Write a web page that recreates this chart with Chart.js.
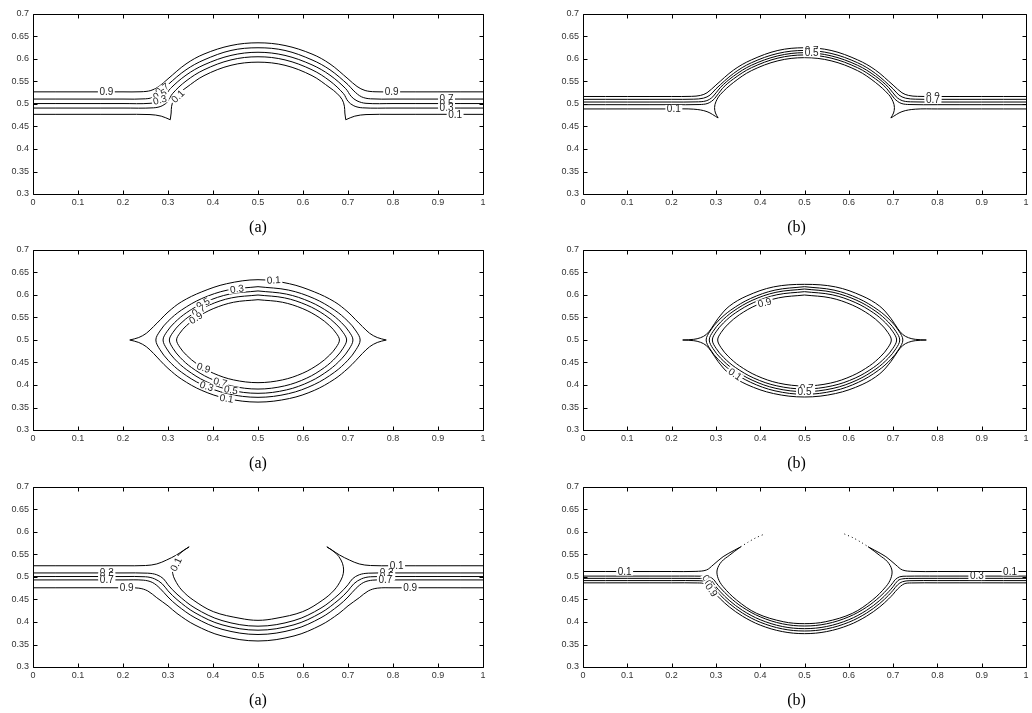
<!DOCTYPE html>
<html>
<head>
<meta charset="utf-8">
<script src="https://cdn.jsdelivr.net/npm/chart.js@4.4.1/dist/chart.umd.min.js"></script>
<style>
  html, body { margin: 0; padding: 0; background: #fff; }
  #wrap { position: relative; width: 1032px; height: 713px; overflow: hidden; }
  #wrap canvas { position: absolute; }
</style>
</head>
<body>
<div id="wrap">
  <canvas id="c1" width="500" height="236" style="left:0;top:0"></canvas>
  <canvas id="c2" width="482" height="236" style="left:550px;top:0"></canvas>
  <canvas id="c3" width="500" height="236" style="left:0;top:236px"></canvas>
  <canvas id="c4" width="482" height="236" style="left:550px;top:236px"></canvas>
  <canvas id="c5" width="500" height="236" style="left:0;top:473px"></canvas>
  <canvas id="c6" width="482" height="236" style="left:550px;top:473px"></canvas>
</div>
<script>
// axis ticks
const xTicks = [0, 0.1, 0.2, 0.3, 0.4, 0.5, 0.6, 0.7, 0.8, 0.9, 1];
const yTicks = [0.3, 0.35, 0.4, 0.45, 0.5, 0.55, 0.6, 0.65, 0.7];
const captions = ['(a)', '(b)', '(a)', '(b)', '(a)', '(b)'];

// ---- panel 1 (top left): cap rising from the layer ----
const p1_09 = [[0,.527],[.2,.527],[.24,.5272],[.262,.530],[.28,.539],[.30,.556],[.34,.589],[.38,.611],[.44,.630],[.5,.636],[.56,.630],[.62,.611],[.66,.589],[.70,.556],[.72,.539],[.738,.530],[.76,.5272],[.8,.527],[1,.527]];
const p1_07 = [[0,.511],[.2,.511],[.25,.5115],[.27,.516],[.287,.529],[.30,.543],[.34,.576],[.38,.598],[.44,.619],[.5,.625],[.56,.619],[.62,.598],[.66,.576],[.70,.543],[.713,.529],[.73,.516],[.75,.5115],[.8,.511],[1,.511]];
const p1_05 = [[0,.501],[.2,.501],[.26,.5015],[.28,.507],[.293,.517],[.305,.534],[.34,.564],[.38,.587],[.44,.608],[.5,.615],[.56,.608],[.62,.587],[.66,.564],[.695,.534],[.707,.517],[.72,.507],[.74,.5015],[.8,.501],[1,.501]];
const p1_03 = [[0,.491],[.2,.491],[.268,.4915],[.287,.496],[.30,.506],[.31,.523],[.34,.551],[.38,.576],[.44,.598],[.5,.605],[.56,.598],[.62,.576],[.66,.551],[.69,.523],[.70,.506],[.713,.496],[.732,.4915],[.8,.491],[1,.491]];
const p1_01a = [[0,.477],[.2,.477],[.26,.4765],[.285,.473],[.305,.465]];
const p1_01b = [[.305,.465],[.307,.48],[.308,.495],[.313,.51],[.325,.524],[.34,.536],[.38,.563],[.44,.586],[.5,.593],[.56,.586],[.62,.563],[.66,.536],[.675,.524],[.687,.51],[.692,.495],[.693,.48],[.695,.465]];
const p1_01c = [[.695,.465],[.715,.473],[.74,.4765],[.8,.477],[1,.477]];
const p1_labels = [['0.9',.163,.527,0],['0.9',.797,.527,0],['0.7',.287,.533,-35],['0.5',.282,.521,-25],['0.3',.282,.509,-15],['0.1',.322,.517,-45],['0.7',.919,.511,0],['0.5',.919,.501,0],['0.3',.919,.491,0],['0.1',.938,.477,0]];

// ---- panel 2 (top right) ----
const p2_09 = [[0,.5167],[.2,.5167],[.245,.517],[.265,.519],[.28,.525],[.30,.542],[.34,.5755],[.38,.598],[.44,.619],[.5,.625],[.56,.619],[.62,.598],[.66,.5755],[.70,.542],[.72,.525],[.735,.519],[.755,.517],[.8,.5167],[1,.5167]];
const p2_07 = [[0,.5104],[.2,.5104],[.25,.5107],[.272,.513],[.287,.52],[.30,.5336],[.34,.568],[.38,.5916],[.44,.6124],[.5,.619],[.56,.6124],[.62,.5916],[.66,.568],[.70,.5336],[.713,.52],[.728,.513],[.75,.5107],[.8,.5104],[1,.5104]];
const p2_05 = [[0,.5044],[.2,.5044],[.255,.5047],[.278,.507],[.293,.516],[.31,.5367],[.34,.562],[.38,.586],[.44,.607],[.5,.614],[.56,.607],[.62,.586],[.66,.562],[.69,.5367],[.707,.516],[.722,.507],[.745,.5047],[.8,.5044],[1,.5044]];
const p2_03 = [[0,.4985],[.2,.4985],[.262,.4988],[.282,.5015],[.297,.512],[.315,.535],[.34,.556],[.38,.5805],[.44,.602],[.5,.609],[.56,.602],[.62,.5805],[.66,.556],[.685,.535],[.703,.512],[.718,.5015],[.738,.4988],[.8,.4985],[1,.4985]];
const p2_01a = [[0,.489],[.2,.489],[.25,.4885],[.28,.483],[.305,.469]];
const p2_01b = [[.305,.469],[.299,.48],[.297,.492],[.30,.505],[.31,.521],[.34,.548],[.38,.574],[.44,.596],[.5,.603],[.56,.596],[.62,.574],[.66,.548],[.69,.521],[.70,.505],[.703,.492],[.701,.48],[.695,.469]];
const p2_01c = [[.695,.469],[.72,.483],[.75,.4885],[.8,.489],[1,.489]];
const p2_labels = [['0.1',.205,.489,0],['0.7',.516,.619,0],['0.5',.516,.613,0],['0.9',.79,.5167,0],['0.7',.79,.5104,0]];

// ---- panel 3 (middle left): closed drop ----
const p3_01u = [[.215,.5],[.235,.5055],[.252,.515],[.268,.53],[.283,.545],[.30,.562],[.33,.585],[.375,.607],[.43,.625],[.5,.634],[.57,.625],[.625,.607],[.67,.585],[.70,.562],[.717,.545],[.732,.53],[.748,.515],[.765,.5055],[.785,.5]];
const p3_01l = [[.215,.5],[.235,.4945],[.252,.485],[.268,.47],[.283,.454],[.30,.437],[.33,.413],[.375,.388],[.43,.37],[.5,.362],[.57,.37],[.625,.388],[.67,.413],[.70,.437],[.717,.454],[.732,.47],[.748,.485],[.765,.4945],[.785,.5]];
const p3_03 = [[.5,.6185],[.4319,.6109],[.3751,.5921],[.3297,.5664],[.3002,.5418],[.2821,.5199],[.273,.5],[.2821,.4786],[.3002,.4551],[.3297,.4286],[.3751,.401],[.4319,.3808],[.5,.3726],[.5681,.3808],[.6249,.401],[.6703,.4286],[.6998,.4551],[.7179,.4786],[.727,.5],[.7179,.5199],[.6998,.5418],[.6703,.5664],[.6249,.5921],[.5681,.6109],[.5,.6185]];
const p3_05 = [[.5,.609],[.4367,.602],[.3839,.5847],[.3417,.5611],[.3143,.5384],[.2974,.5183],[.289,.5],[.2974,.4801],[.3143,.4582],[.3417,.4336],[.3839,.4079],[.4367,.3891],[.5,.3815],[.5633,.3891],[.6161,.4079],[.6583,.4336],[.6857,.4582],[.7026,.4801],[.711,.5],[.7026,.5183],[.6857,.5384],[.6583,.5611],[.6161,.5847],[.5633,.602],[.5,.609]];
const p3_07 = [[.5,.6],[.4409,.5936],[.3916,.5777],[.3522,.5561],[.3266,.5353],[.3109,.5168],[.303,.5],[.3109,.4817],[.3266,.4616],[.3522,.4389],[.3916,.4153],[.4409,.398],[.5,.391],[.5591,.398],[.6084,.4153],[.6478,.4389],[.6734,.4616],[.6891,.4817],[.697,.5],[.6891,.5168],[.6734,.5353],[.6478,.5561],[.6084,.5777],[.5591,.5936],[.5,.6]];
const p3_09 = [[.5,.5896],[.4457,.5839],[.4004,.5696],[.3642,.5502],[.3407,.5316],[.3262,.5151],[.319,.5],[.3262,.484],[.3407,.4666],[.3642,.4469],[.4004,.4263],[.4457,.4113],[.5,.4052],[.5543,.4113],[.5996,.4263],[.6358,.4469],[.6593,.4666],[.6738,.484],[.681,.5],[.6738,.5151],[.6593,.5316],[.6358,.5502],[.5996,.5696],[.5543,.5839],[.5,.5896]];
const p3_labels = [['0.1',.535,.633,-3],['0.3',.453,.6133,-8],['0.5',.378,.581,-28],['0.7',.368,.565,-30],['0.9',.362,.549,-32],['0.9',.379,.438,18],['0.7',.416,.406,14],['0.5',.44,.389,10],['0.3',.386,.397,18],['0.1',.43,.37,8]];

// ---- panel 4 (middle right) ----
const p4_01u = [[.225,.5],[.25,.5015],[.265,.505],[.278,.512],[.29,.526],[.305,.548],[.33,.575],[.37,.598],[.43,.618],[.5,.6237],[.57,.618],[.63,.598],[.67,.575],[.695,.548],[.71,.526],[.722,.512],[.735,.505],[.75,.5015],[.775,.5]];
const p4_01l = [[.225,.5],[.25,.4985],[.265,.495],[.278,.488],[.29,.474],[.305,.452],[.33,.425],[.37,.401],[.43,.381],[.5,.3733],[.57,.381],[.63,.401],[.67,.425],[.695,.452],[.71,.474],[.722,.488],[.735,.495],[.75,.4985],[.775,.5]];
const p4_03 = [[.5,.6185],[.4334,.6109],[.3779,.5921],[.3335,.5664],[.3046,.5418],[.2869,.5199],[.278,.5],[.2869,.4797],[.3046,.4574],[.3335,.4323],[.3779,.4062],[.4334,.387],[.5,.3793],[.5666,.387],[.6221,.4062],[.6665,.4323],[.6954,.4574],[.7131,.4797],[.722,.5],[.7131,.5199],[.6954,.5418],[.6665,.5664],[.6221,.5921],[.5666,.6109],[.5,.6185]];
const p4_05 = [[.5,.6133],[.4355,.606],[.3817,.588],[.3387,.5635],[.3108,.54],[.2936,.5191],[.285,.5],[.2936,.4807],[.3108,.4595],[.3387,.4356],[.3817,.4108],[.4355,.3925],[.5,.3852],[.5645,.3925],[.6183,.4108],[.6613,.4356],[.6892,.4595],[.7064,.4807],[.715,.5],[.7064,.5191],[.6892,.54],[.6613,.5635],[.6183,.588],[.5645,.606],[.5,.6133]];
const p4_07 = [[.5,.6074],[.4376,.6005],[.3856,.5834],[.344,.5602],[.317,.5379],[.3003,.5181],[.292,.5],[.3003,.4817],[.317,.4616],[.344,.439],[.3856,.4154],[.4376,.3981],[.5,.3911],[.5624,.3981],[.6144,.4154],[.656,.439],[.683,.4616],[.6997,.4817],[.708,.5],[.6997,.5181],[.683,.5379],[.656,.5602],[.6144,.5834],[.5624,.6005],[.5,.6074]];
const p4_09 = [[.5,.6],[.4412,.5936],[.3922,.5777],[.353,.5561],[.3275,.5353],[.3118,.5168],[.304,.5],[.3118,.4828],[.3275,.464],[.353,.4427],[.3922,.4206],[.4412,.4043],[.5,.3978],[.5588,.4043],[.6078,.4206],[.647,.4427],[.6725,.464],[.6882,.4828],[.696,.5],[.6882,.5168],[.6725,.5353],[.647,.5561],[.6078,.5777],[.5588,.5936],[.5,.6]];
const p4_labels = [['0.9',.41,.583,-15],['0.1',.343,.424,35],['0.7',.505,.3911,0],['0.5',.5,.3852,0]];

// ---- panel 5 (bottom left): bowl with hooks ----
const p5_01a = [[0,.525],[.2,.525],[.25,.5255],[.275,.529],[.297,.5378],[.319,.549],[.338,.5615],[.347,.567]];
const p5_01b = [[.347,.567],[.3267,.5526],[.3156,.5378],[.3104,.523],[.3104,.5082],[.3156,.4933],[.3304,.4711],[.356,.4489],[.4007,.423],[.46,.4082],[.5,.4037],[.54,.4082],[.5993,.423],[.644,.4489],[.6696,.4711],[.6844,.4933],[.6896,.5082],[.6896,.523],[.6844,.5378],[.6733,.5526],[.653,.567]];
const p5_01c = [[.653,.567],[.662,.5615],[.681,.549],[.703,.5378],[.725,.529],[.75,.5255],[.8,.525],[1,.525]];
const p5_03 = [[0,.509],[.2,.509],[.255,.5085],[.275,.505],[.29,.496],[.30,.4828],[.32,.4619],[.36,.431],[.42,.4032],[.5,.3907],[.58,.4032],[.64,.431],[.68,.4619],[.70,.4828],[.71,.496],[.725,.505],[.745,.5085],[.8,.509],[1,.509]];
const p5_05 = [[0,.501],[.2,.501],[.25,.5005],[.27,.496],[.287,.485],[.30,.4693],[.32,.4498],[.36,.4205],[.42,.3938],[.5,.3818],[.58,.3938],[.64,.4205],[.68,.4498],[.70,.4693],[.713,.485],[.73,.496],[.75,.5005],[.8,.501],[1,.501]];
const p5_07 = [[0,.4935],[.2,.4935],[.245,.493],[.265,.488],[.282,.475],[.30,.4555],[.32,.4372],[.36,.4095],[.42,.3838],[.5,.3722],[.58,.3838],[.64,.4095],[.68,.4372],[.70,.4555],[.718,.475],[.735,.488],[.755,.493],[.8,.4935],[1,.4935]];
const p5_09 = [[0,.476],[.2,.476],[.235,.4752],[.255,.469],[.275,.454],[.30,.4358],[.32,.419],[.36,.3932],[.42,.369],[.5,.3578],[.58,.369],[.64,.3932],[.68,.419],[.70,.4358],[.725,.454],[.745,.469],[.765,.4752],[.8,.476],[1,.476]];
const p5_labels = [['0.1',.318,.528,-65],['0.3',.164,.509,0],['0.5',.164,.501,0],['0.7',.164,.4935,0],['0.9',.208,.476,0],['0.1',.808,.525,0],['0.3',.786,.509,0],['0.5',.786,.501,0],['0.7',.783,.4935,0],['0.9',.838,.476,0]];

// ---- panel 6 (bottom right) ----
const p6_01a = [[0,.5122],[.2,.5122],[.255,.5125],[.2788,.5156],[.2937,.5267],[.3163,.5452],[.3427,.56],[.356,.567]];
const p6_01b = [[.356,.567],[.3427,.5575],[.3315,.5489],[.3127,.534],[.3028,.5156],[.305,.4971],[.3163,.4785],[.3466,.4489],[.3918,.4193],[.4519,.4007],[.5,.3963],[.5481,.4007],[.6082,.4193],[.6534,.4489],[.6837,.4785],[.695,.4971],[.6972,.5156],[.6873,.534],[.6685,.5489],[.6573,.5575],[.644,.567]];
const p6_01c = [[.644,.567],[.6573,.56],[.6837,.5452],[.7063,.5267],[.7212,.5156],[.745,.5125],[.8,.5122],[1,.5122]];
const p6_dotL = [[.356,.567],[.372,.577],[.39,.587],[.41,.5956]];
const p6_dotR = [[.59,.5956],[.61,.587],[.628,.577],[.644,.567]];
const p6_03 = [[0,.502],[.2,.502],[.27,.5018],[.285,.5005],[.295,.4943],[.30,.4878],[.31,.4759],[.33,.456],[.36,.4329],[.40,.4115],[.45,.396],[.5,.3911],[.55,.396],[.60,.4115],[.64,.4329],[.67,.456],[.69,.4759],[.70,.4878],[.705,.4943],[.715,.5005],[.73,.5018],[.8,.502],[1,.502]];
const p6_05 = [[0,.497],[.2,.497],[.265,.4968],[.278,.496],[.289,.4922],[.30,.4785],[.31,.4672],[.33,.4481],[.36,.4259],[.40,.4051],[.45,.39],[.5,.3852],[.55,.39],[.60,.4051],[.64,.4259],[.67,.4481],[.69,.4672],[.70,.4785],[.711,.4922],[.722,.496],[.735,.4968],[.8,.497],[1,.497]];
const p6_07 = [[0,.492],[.2,.492],[.262,.4918],[.279,.4895],[.29,.4825],[.30,.4705],[.31,.4597],[.33,.4413],[.36,.4198],[.40,.3995],[.45,.3847],[.5,.38],[.55,.3847],[.60,.3995],[.64,.4198],[.67,.4413],[.69,.4597],[.70,.4705],[.71,.4825],[.721,.4895],[.738,.4918],[.8,.492],[1,.492]];
const p6_09 = [[0,.487],[.2,.487],[.258,.4868],[.275,.4848],[.29,.4731],[.30,.4617],[.31,.4514],[.33,.4337],[.36,.4129],[.40,.3931],[.45,.3787],[.5,.3741],[.55,.3787],[.60,.3931],[.64,.4129],[.67,.4337],[.69,.4514],[.70,.4617],[.71,.4731],[.725,.4848],[.742,.4868],[.8,.487],[1,.487]];
const p6_labels = [['0.1',.094,.5122,0],['0.3',.889,.502,0],['0.1',.964,.5122,0],['0.7',.283,.490,55],['0.5',.288,.478,55],['0.9',.29,.471,55]];

const panels = [
  { id: 'c1', lines: [p1_09, p1_07, p1_05, p1_03, p1_01a, p1_01b, p1_01c], dots: [], labels: p1_labels },
  { id: 'c2', lines: [p2_09, p2_07, p2_05, p2_03, p2_01a, p2_01b, p2_01c], dots: [], labels: p2_labels },
  { id: 'c3', lines: [p3_01u, p3_01l, p3_03, p3_05, p3_07, p3_09], dots: [], labels: p3_labels },
  { id: 'c4', lines: [p4_01u, p4_01l, p4_03, p4_05, p4_07, p4_09], dots: [], labels: p4_labels },
  { id: 'c5', lines: [p5_01a, p5_01b, p5_01c, p5_03, p5_05, p5_07, p5_09], dots: [], labels: p5_labels },
  { id: 'c6', lines: [p6_01a, p6_01b, p6_01c, p6_03, p6_05, p6_07, p6_09], dots: [p6_dotL, p6_dotR], labels: p6_labels }
];

const sans = '"Liberation Sans", Arial, sans-serif';

// frame with inward ticks, contour labels and caption
const framePlugin = {
  id: 'frame',
  afterDatasetsDraw(chart, args, opts) {
    const { ctx, chartArea: a, scales: { x, y } } = chart;
    ctx.save();
    ctx.font = '10px ' + sans;
    ctx.textAlign = 'center';
    ctx.textBaseline = 'middle';
    opts.labels.forEach(([t, vx, vy, rot]) => {
      ctx.save();
      ctx.translate(x.getPixelForValue(vx), y.getPixelForValue(vy));
      ctx.rotate(rot * Math.PI / 180);
      const w = ctx.measureText(t).width;
      ctx.fillStyle = '#fff';
      ctx.fillRect(-w / 2 - 1.5, -4, w + 3, 8);
      ctx.fillStyle = '#222';
      ctx.fillText(t, 0, 0.5);
      ctx.restore();
    });

    const l = Math.round(a.left) + 0.5, r = Math.round(a.right) + 0.5;
    const t = Math.round(a.top) + 0.5, b = Math.round(a.bottom) + 0.5;
    ctx.strokeStyle = '#000';
    ctx.lineWidth = 1;
    ctx.beginPath();
    ctx.rect(l, t, r - l, b - t);
    xTicks.forEach(v => {
      const px = Math.round(x.getPixelForValue(v)) + 0.5;
      ctx.moveTo(px, b); ctx.lineTo(px, b - 4);
      ctx.moveTo(px, t); ctx.lineTo(px, t + 4);
    });
    yTicks.forEach(v => {
      const py = Math.round(y.getPixelForValue(v)) + 0.5;
      ctx.moveTo(l, py); ctx.lineTo(l + 4, py);
      ctx.moveTo(r, py); ctx.lineTo(r - 4, py);
    });
    ctx.stroke();

    ctx.font = '16px "Liberation Serif", "Times New Roman", serif';
    ctx.fillStyle = '#000';
    ctx.fillText(opts.caption, (a.left + a.right) / 2 + opts.dx, 228);
    ctx.restore();
  }
};

panels.forEach((p, i) => {
  const right = i % 2 === 1;
  const datasets = p.lines.map(pts => ({
    data: pts.map(([vx, vy]) => ({ x: vx, y: vy })),
    showLine: true, pointRadius: 0, borderColor: '#000', borderWidth: 1,
    tension: 0.35, fill: false
  }));
  p.dots.forEach(pts => datasets.push({
    data: pts.map(([vx, vy]) => ({ x: vx, y: vy })),
    showLine: true, pointRadius: 0, borderColor: '#000', borderWidth: 1,
    borderDash: [1, 3], tension: 0.3, fill: false
  }));

  new Chart(document.getElementById(p.id), {
    type: 'scatter',
    data: { datasets },
    options: {
      responsive: false,
      animation: false,
      devicePixelRatio: 1,
      events: [],
      layout: { padding: { top: 14, right: right ? 6 : 17, bottom: 0, left: 0 }, autoPadding: false },
      plugins: {
        legend: { display: false },
        tooltip: { enabled: false },
        frame: { labels: p.labels, caption: captions[i], dx: right ? -8 : 0 }
      },
      scales: {
        x: {
          type: 'linear', min: 0, max: 1,
          grid: { display: false, drawTicks: false },
          border: { display: false },
          afterBuildTicks: s => { s.ticks = xTicks.map(v => ({ value: v })); },
          afterFit: s => { s.height = 42; },
          ticks: { autoSkip: false, maxRotation: 0, padding: 3, color: '#333', font: { family: sans, size: 9 }, callback: v => String(v) }
        },
        y: {
          type: 'linear', min: 0.3, max: 0.7,
          grid: { display: false, drawTicks: false },
          border: { display: false },
          afterBuildTicks: s => { s.ticks = yTicks.map(v => ({ value: v })); },
          afterFit: s => { s.width = 33; },
          ticks: { autoSkip: false, padding: 4, color: '#333', font: { family: sans, size: 9 }, callback: v => String(v) }
        }
      }
    },
    plugins: [framePlugin]
  });
});
</script>
</body>
</html>
